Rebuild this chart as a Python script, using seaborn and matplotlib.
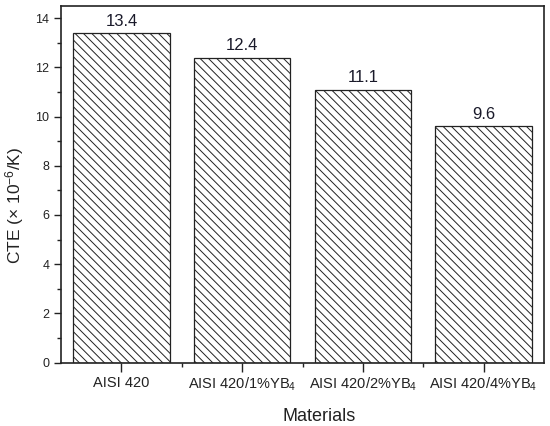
import matplotlib
matplotlib.use('Agg')
import matplotlib.pyplot as plt
import seaborn as sns
import pandas as pd

materials = ['AISI 420', 'AISI 420/1%YB$_4$', 'AISI 420/2%YB$_4$', 'AISI 420/4%YB$_4$']
cte = [13.4, 12.4, 11.1, 9.6]
value_labels = ['13.4', '12.4', '11.1', '9.6']

sns.set_style('ticks')
plt.rcParams['font.family'] = ['Liberation Sans', 'DejaVu Sans']
plt.rcParams['mathtext.fontset'] = 'custom'
plt.rcParams['mathtext.rm'] = 'Liberation Sans'
plt.rcParams['mathtext.it'] = 'Liberation Sans:italic'
plt.rcParams['mathtext.default'] = 'regular'
plt.rcParams['hatch.linewidth'] = 0.7
plt.rcParams['hatch.color'] = '#222222'

df = pd.DataFrame({'material': materials, 'cte': cte})

fig = plt.figure(figsize=(5.5, 4.26), dpi=100)
ax = fig.add_axes([0.111, 0.149, 0.878, 0.837])

sns.barplot(data=df, x='material', y='cte', color='white', edgecolor='#222222',
            linewidth=0.9, width=0.8, saturation=1, ax=ax)
for p in ax.patches:
    p.set_hatch('\\\\\\\\')
    p.set_facecolor('white')

for i, (v, s) in enumerate(zip(cte, value_labels)):
    ax.annotate(s, (i, v), xytext=(0, 3), textcoords='offset points',
                ha='center', va='bottom', fontsize=12, color='#1a1a2a')

ax.set_xlim(-0.5, 3.5)
ax.set_ylim(0, 14.5)
ax.set_yticks([0, 2, 4, 6, 8, 10, 12, 14])
ax.set_yticks(range(1, 15, 2), minor=True)
ax.set_xticks([0.5, 1.5, 2.5], minor=True)

ax.tick_params(axis='both', which='major', direction='out', length=5, width=1,
               labelsize=10.5, colors='#222222')
ax.tick_params(axis='y', which='major', labelsize=9)
ax.tick_params(axis='x', which='major', length=6.5, pad=3)
ax.tick_params(axis='both', which='minor', direction='out', length=3, width=1, colors='#222222')

for sp in ax.spines.values():
    sp.set_visible(True)
    sp.set_linewidth(1.2)
    sp.set_color('#222222')

ax.set_xlabel('Materials', fontsize=13, color='#222222')
ax.xaxis.set_label_coords(0.534, -0.128)
ax.set_ylabel(r'CTE ($\times$ 10$^{-6}$/K)', fontsize=12.5, color='#222222')
ax.yaxis.set_label_coords(-0.072, 0.44)

fig.savefig('out.png', dpi=100)
